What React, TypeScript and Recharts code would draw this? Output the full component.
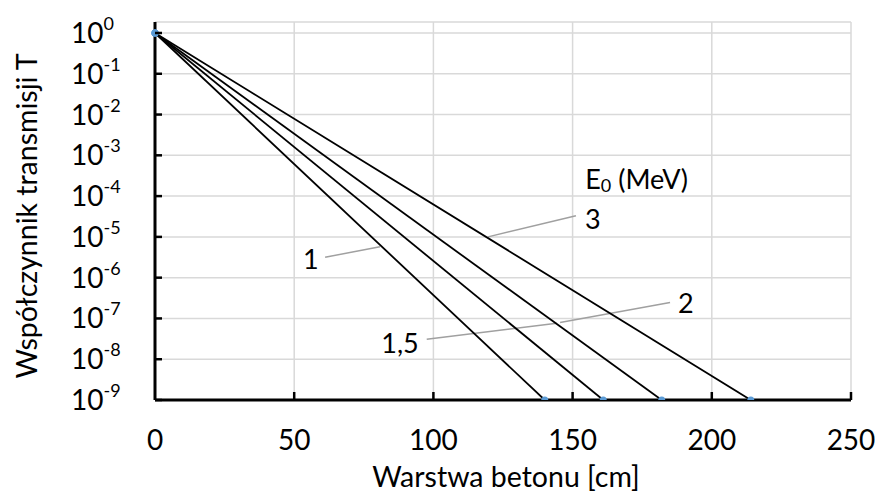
import React from "react";
import {
  LineChart,
  Line,
  XAxis,
  YAxis,
  CartesianGrid,
  ReferenceLine,
  ReferenceDot,
} from "recharts";

// Grubość betonu [cm], przy której T spada do 1e-9, dla każdej energii E0
const energies = ["1", "1,5", "2", "3"];
const endThickness = [140, 161, 182, 214];
const startT = 1;
const endT = 1e-9;

const xTicks = [0, 50, 100, 150, 200, 250];
const yExponents = [0, -1, -2, -3, -4, -5, -6, -7, -8, -9];

// Opisy krzywych: [x, log10(T)]
const noteText = ["E0 (MeV)", "3", "1", "2", "1,5"];
const noteX = [173, 157.3, 56, 190.7, 88];
const noteLog = [-3.56, -4.54, -5.54, -6.6, -7.58];

// Linie odniesienia od opisu do krzywej: [x1, log1, x2, log2]
const leaders = [
  [61.1, -5.5, 80.8, -5.24],
  [119.6, -5.0, 151.2, -4.48],
  [97.6, -7.51, 144.3, -7.12],
  [145.5, -7.1, 185.0, -6.61],
];

const FONT = "Lato, 'Open Sans', sans-serif";

const seriesData = endThickness.map((x) => [
  { x: 0, t: startT },
  { x, t: endT },
]);

const YTick = (props: any) => {
  const { x, y, payload } = props;
  const exp = Math.round(Math.log10(payload.value));
  return (
    <g>
      <line x1={x} y1={y} x2={x + 7} y2={y} stroke="#000" strokeWidth={2.5} />
      <text x={x - 84} y={y + 10} fontSize={28} fontFamily={FONT} fill="#000">
        10
        <tspan fontSize={18} dy={-13}>
          {exp}
        </tspan>
      </text>
    </g>
  );
};

const XTick = (props: any) => {
  const { x, y, payload } = props;
  return (
    <g>
      {payload.value !== 0 && (
        <line x1={x} y1={y} x2={x} y2={y - 8} stroke="#000" strokeWidth={2.5} />
      )}
      <text x={x} y={y + 50} textAnchor="middle" fontSize={28} fontFamily={FONT} fill="#000">
        {payload.value}
      </text>
    </g>
  );
};

const noteContent = (text: string) => (props: any) => {
  const { x, y } = props.viewBox;
  if (text.startsWith("E0")) {
    return (
      <text x={x} y={y} textAnchor="middle" dominantBaseline="central" fontSize={27} fontFamily={FONT} fill="#000">
        E
        <tspan fontSize={18} dy={7}>
          0
        </tspan>
        <tspan dy={-7}> (MeV)</tspan>
      </text>
    );
  }
  return (
    <text x={x} y={y} textAnchor="middle" dominantBaseline="central" fontSize={27} fontFamily={FONT} fill="#000">
      {text}
    </text>
  );
};

export default function App() {
  return (
    <div style={{ position: "absolute", left: 0, top: 0, background: "#fff" }}>
      <LineChart width={875} height={493} margin={{ top: 22, right: 24, bottom: 0, left: 0 }}>
        <CartesianGrid stroke="#d9d9d9" strokeWidth={1.5} />
        <XAxis
          type="number"
          dataKey="x"
          domain={[0, 250]}
          ticks={xTicks}
          tick={<XTick />}
          tickLine={false}
          tickSize={0}
          tickMargin={0}
          height={93}
          axisLine={{ stroke: "#000", strokeWidth: 3 }}
          allowDuplicatedCategory={false}
          label={() => (
            <text x={506} y={487} textAnchor="middle" fontSize={28.5} fontFamily={FONT} fill="#000">
              Warstwa betonu [cm]
            </text>
          )}
        />
        <YAxis
          type="number"
          dataKey="t"
          scale="log"
          domain={[1e-9, 1.86]}
          allowDataOverflow
          ticks={yExponents.map((e) => Math.pow(10, e))}
          tick={<YTick />}
          tickLine={false}
          tickSize={0}
          tickMargin={0}
          width={155}
          axisLine={{ stroke: "#000", strokeWidth: 3 }}
          label={() => (
            <text
              x={37}
              y={216}
              textAnchor="middle"
              fontSize={28.5}
              fontFamily={FONT}
              fill="#000"
              transform="rotate(-90 37 216)"
            >
              Współczynnik transmisji T
            </text>
          )}
        />
        {leaders.map((l, i) => (
          <ReferenceLine
            key={`lead-${i}`}
            segment={[
              { x: l[0], y: Math.pow(10, l[1]) },
              { x: l[2], y: Math.pow(10, l[3]) },
            ]}
            stroke="#a0a0a0"
            strokeWidth={1.5}
            ifOverflow="visible"
          />
        ))}
        {seriesData.map((d, i) => (
          <Line
            key={energies[i]}
            data={d}
            dataKey="t"
            name={energies[i]}
            stroke="#000"
            strokeWidth={1.8}
            dot={{ r: 3.5, fill: "#5b9bd5", stroke: "none" }}
            isAnimationActive={false}
          />
        ))}
        {noteText.map((t, i) => (
          <ReferenceDot
            key={`note-${i}`}
            x={noteX[i]}
            y={Math.pow(10, noteLog[i])}
            r={0}
            fill="none"
            stroke="none"
            ifOverflow="visible"
            label={{ content: noteContent(t) }}
          />
        ))}
      </LineChart>
    </div>
  );
}
